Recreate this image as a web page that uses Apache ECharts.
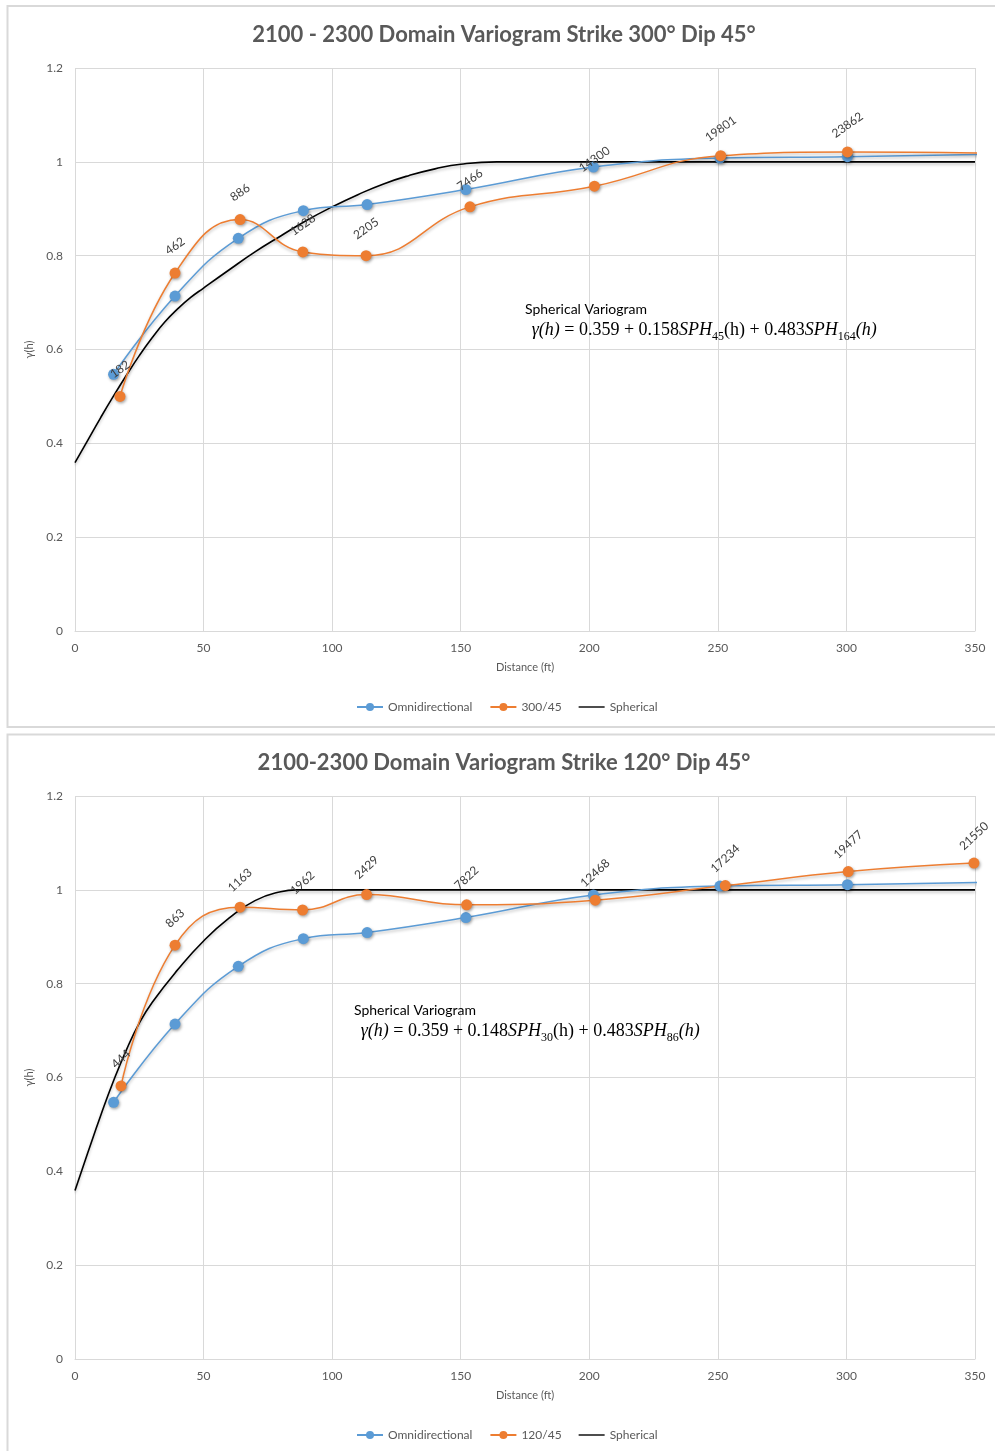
<!DOCTYPE html>
<html>
<head>
<meta charset="utf-8">
<title>2100 - 2300 Domain Variograms</title>
<script src="https://cdn.jsdelivr.net/npm/echarts@6/dist/echarts.min.js"></script>
<style>
  html, body { margin: 0; padding: 0; background: #ffffff; }
  #chart { position: absolute; left: 0; top: 0; width: 995px; height: 1451px; }
</style>
</head>
<body>
<div id="chart"></div>
<script>
// Axis ticks
const xTicks = [0, 50, 100, 150, 200, 250, 300, 350];
const yTicks = [0, 0.2, 0.4, 0.6, 0.8, 1, 1.2];

// Omnidirectional experimental variogram (same in both panels)
const omniLag = [15.0, 38.9, 63.5, 88.8, 113.6, 152.0, 201.6, 250.8, 300.4, 352];
const omniGamma = [0.547, 0.714, 0.837, 0.896, 0.909, 0.941, 0.989, 1.008, 1.011, 1.016];

// Strike 300° / Dip 45° experimental variogram and pair counts
const dir300Lag = [17.5, 38.9, 64.2, 88.6, 113.2, 153.6, 202.0, 251.1, 300.4, 352];
const dir300Gamma = [0.500, 0.763, 0.877, 0.808, 0.800, 0.904, 0.948, 1.013, 1.021, 1.019];
const dir300Pairs = ['182', '462', '886', '1628', '2205', '7466', '14300', '19801', '23862', ''];

// Strike 120° / Dip 45° experimental variogram and pair counts
const dir120Lag = [17.9, 38.9, 64.2, 88.5, 113.4, 152.3, 202.3, 252.9, 300.7, 349.6];
const dir120Gamma = [0.582, 0.882, 0.963, 0.957, 0.990, 0.968, 0.978, 1.009, 1.039, 1.057];
const dir120Pairs = ['444', '863', '1163', '1962', '2429', '7822', '12468', '17234', '19477', '21550'];

// Fitted spherical model, upper panel
const sphTopLag = [0, 5, 10, 15, 20, 25, 30, 35, 40, 45, 50, 60, 70, 80, 90, 100, 110, 120, 130, 140, 150, 164, 200, 250, 300, 350];
const sphTopGamma = [0.359, 0.407, 0.455, 0.501, 0.545, 0.587, 0.625, 0.659, 0.687, 0.711, 0.731, 0.770, 0.808, 0.842, 0.875, 0.904, 0.930, 0.953, 0.971, 0.985, 0.995, 1.0, 1.0, 1.0, 1.0, 1.0];

// Fitted spherical model, lower panel
const sphBotLag = [0, 5, 10, 15, 20, 25, 30, 40, 50, 60, 70, 80, 86, 150, 250, 350];
const sphBotGamma = [0.359, 0.440, 0.519, 0.593, 0.659, 0.716, 0.760, 0.830, 0.891, 0.940, 0.977, 0.996, 1.0, 1.0, 1.0, 1.0];

const zip = (xs, ys) => xs.map((x, i) => [x, ys[i]]);

const BLUE = '#5b9bd5';
const ORANGE = '#ed7d31';
const GREY_TEXT = '#595959';
const GRID_LINE = '#d9d9d9';
const FONT = 'Lato, "Open Sans", sans-serif';
const MATH_FONT = '"Liberation Serif", "DejaVu Serif", serif';
// plain line legend marker for the model curve (outer moves keep a 26x10 box)
const LINE_ICON = 'path://M0,0 M26,10 M0,4.3 L26,4.3 L26,5.7 L0,5.7 Z';

const chart = echarts.init(document.getElementById('chart'), null, { renderer: 'canvas' });

function xAxisCfg(gridIndex) {
  return {
    type: 'value', gridIndex,
    min: xTicks[0], max: xTicks[xTicks.length - 1], interval: xTicks[1] - xTicks[0],
    name: 'Distance (ft)', nameLocation: 'middle', nameGap: 31,
    nameTextStyle: { color: GREY_TEXT, fontSize: 11, fontFamily: FONT },
    axisLine: { show: true, lineStyle: { color: GRID_LINE, width: 1 } },
    axisTick: { show: false },
    axisLabel: { color: GREY_TEXT, fontSize: 12, fontFamily: FONT, margin: 11 },
    splitLine: { show: true, lineStyle: { color: GRID_LINE, width: 1 } }
  };
}
function yAxisCfg(gridIndex) {
  return {
    type: 'value', gridIndex,
    min: yTicks[0], max: yTicks[yTicks.length - 1], interval: 0.2,
    name: 'γ(h)', nameLocation: 'middle', nameGap: 31, nameRotate: 90,
    nameTextStyle: { color: GREY_TEXT, fontSize: 11, fontFamily: FONT },
    axisLine: { show: false },
    axisTick: { show: false },
    axisLabel: { color: GREY_TEXT, fontSize: 12, fontFamily: FONT, margin: 12 },
    splitLine: { show: true, lineStyle: { color: GRID_LINE, width: 1 } }
  };
}

const markerStyle = (color) => ({
  color,
  shadowColor: 'rgba(0,0,0,0.35)', shadowBlur: 3, shadowOffsetX: 1, shadowOffsetY: 1.5
});
const lineShadow = { shadowColor: 'rgba(0,0,0,0.25)', shadowBlur: 3, shadowOffsetY: 2 };

function pairLabel(texts, angle) {
  const d = 27, a = angle * Math.PI / 180;
  return {
    show: true, position: 'inside', rotate: angle,
    offset: [d * Math.sin(a), -d * Math.cos(a)],
    color: '#404040', fontSize: 12, fontFamily: FONT,
    formatter: (p) => texts[p.dataIndex]
  };
}

function experimental(name, xs, ys, color, idx, label) {
  const s = {
    name, type: 'line', xAxisIndex: idx, yAxisIndex: idx,
    data: zip(xs, ys), smooth: 0.45, clip: true,
    symbol: 'circle', symbolSize: 11, showAllSymbol: true,
    lineStyle: Object.assign({ color, width: 1.5 }, lineShadow),
    itemStyle: markerStyle(color),
    emphasis: { disabled: true }, z: 3
  };
  if (label) s.label = label;
  return s;
}
function model(xs, ys, idx) {
  return {
    name: 'Spherical', type: 'line', xAxisIndex: idx, yAxisIndex: idx,
    data: zip(xs, ys), smooth: 0.5,
    symbol: 'none', color: '#000000',
    lineStyle: Object.assign({ color: '#000000', width: 1.6 }, lineShadow),
    emphasis: { disabled: true }, z: 2
  };
}

function formula(left, top, eq) {
  const rich = {
    t: { fontFamily: FONT, fontSize: 14, color: '#000', lineHeight: 20 },
    i: { fontFamily: MATH_FONT, fontStyle: 'italic', fontSize: 18, color: '#000', lineHeight: 22 },
    n: { fontFamily: MATH_FONT, fontSize: 18, color: '#000', lineHeight: 22 },
    // subscripts: pushed down inside the line box by top padding
    s: { fontFamily: MATH_FONT, fontSize: 12, color: '#000', lineHeight: 10, padding: [12, 0, 0, 0], verticalAlign: 'top' }
  };
  return {
    type: 'text', left, top, z: 10,
    style: { text: '{t|Spherical Variogram}\n' + eq, rich }
  };
}

function panelBorder(top, height) {
  return {
    type: 'rect', z: -1, silent: true,
    shape: { x: 7.5, y: top, width: 995, height },
    style: { fill: 'none', stroke: '#d9d9d9', lineWidth: 2 }
  };
}
function titleText(y, text) {
  return {
    type: 'text', x: 504, y, z: 10,
    style: {
      text, textAlign: 'center', textVerticalAlign: 'middle',
      fontFamily: FONT, fontWeight: 'bold', fontSize: 22, fill: GREY_TEXT
    }
  };
}
function legendCfg(top, dirName) {
  return {
    left: 351, top, itemWidth: 26, itemHeight: 10, itemGap: 17,
    textStyle: { color: GREY_TEXT, fontSize: 12, fontFamily: FONT },
    data: ['Omnidirectional', dirName, { name: 'Spherical', icon: LINE_ICON }],
    selectedMode: false
  };
}

const option = {
  animation: false,
  backgroundColor: '#ffffff',
  grid: [
    { left: 75, top: 68, width: 900, height: 563 },
    { left: 75, top: 796, width: 900, height: 563 }
  ],
  xAxis: [xAxisCfg(0), xAxisCfg(1)],
  yAxis: [yAxisCfg(0), yAxisCfg(1)],
  legend: [legendCfg(696, '300/45'), legendCfg(1424, '120/45')],
  series: [
    model(sphTopLag, sphTopGamma, 0),
    experimental('Omnidirectional', omniLag, omniGamma, BLUE, 0),
    experimental('300/45', dir300Lag, dir300Gamma, ORANGE, 0, pairLabel(dir300Pairs, 35)),
    model(sphBotLag, sphBotGamma, 1),
    experimental('Omnidirectional', omniLag, omniGamma, BLUE, 1),
    experimental('120/45', dir120Lag, dir120Gamma, ORANGE, 1, pairLabel(dir120Pairs, 43))
  ],
  graphic: [
    panelBorder(6, 721),
    panelBorder(734.5, 730),
    titleText(35, '2100 - 2300 Domain Variogram Strike 300° Dip 45°'),
    titleText(763, '2100-2300 Domain Variogram Strike 120° Dip 45°'),
    formula(525, 302, '  {i|γ(h)}{n| = 0.359 + 0.158}{i|SPH}{s|45}{n|(h) + 0.483}{i|SPH}{s|164}{i|(h)}'),
    formula(354, 1003, '  {i|γ(h)}{n| = 0.359 + 0.148}{i|SPH}{s|30}{n|(h) + 0.483}{i|SPH}{s|86}{i|(h)}')
  ]
};

chart.setOption(option);
</script>
</body>
</html>
